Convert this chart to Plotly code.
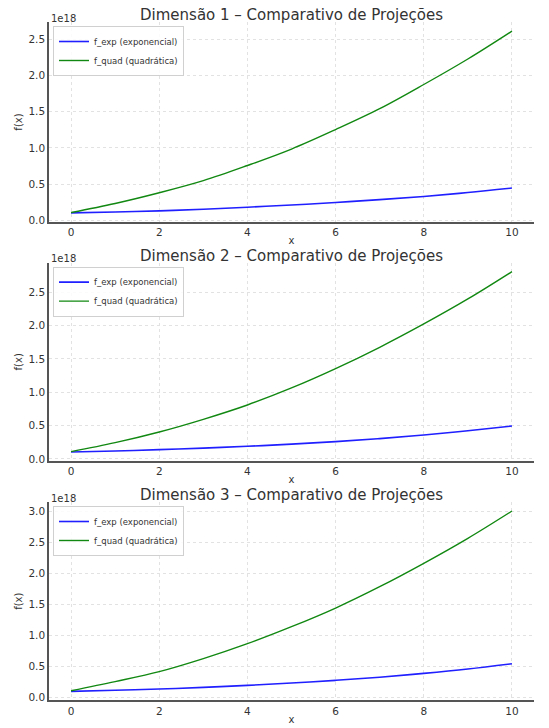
import plotly.graph_objects as go

# values, in units of 1e18
x_vals = [0, 1, 2, 3, 4, 5, 6, 7, 8, 9, 10]

dim1_exp = [0.102, 0.115, 0.130, 0.153, 0.181, 0.211, 0.246, 0.285, 0.329, 0.383, 0.445]
dim1_quad = [0.107, 0.232, 0.380, 0.547, 0.756, 0.983, 1.252, 1.540, 1.874, 2.226, 2.611]

dim2_exp = [0.105, 0.120, 0.140, 0.163, 0.190, 0.223, 0.260, 0.305, 0.360, 0.424, 0.495]
dim2_quad = [0.110, 0.245, 0.405, 0.595, 0.810, 1.065, 1.355, 1.675, 2.025, 2.400, 2.810]

dim3_exp = [0.102, 0.120, 0.140, 0.167, 0.199, 0.236, 0.280, 0.330, 0.392, 0.463, 0.548]
dim3_quad = [0.113, 0.260, 0.420, 0.630, 0.871, 1.145, 1.446, 1.790, 2.167, 2.570, 3.010]

titles = [
    "Dimensão 1 – Comparativo de Projeções",
    "Dimensão 2 – Comparativo de Projeções",
    "Dimensão 3 – Comparativo de Projeções",
]
exp_name = "f_exp (exponencial)"
quad_name = "f_quad (quadrática)"
offset_label = "1e18"

# body margin is removed in the page, so the figure fills the window
W, H = 549, 728
FONT = "DejaVu Sans"
TEXT = "#333333"
SPINE = "#555555"
GRID = "#e2e2e2"


def px_x(p):
    return p / W


def px_y(p):
    return 1 - p / H


x_dom = [px_x(49), px_x(534)]
# (top px, bottom px) of each axes box in the reference
boxes = [(22, 222), (262.6, 461), (502, 700.4)]

panels = [(dim1_exp, dim1_quad), (dim2_exp, dim2_quad), (dim3_exp, dim3_quad)]

fig = go.Figure()
annotations = []
layout = {}

for i, (f_exp, f_quad) in enumerate(panels):
    n = i + 1
    sfx = "" if n == 1 else str(n)
    legend_id = "legend" if n == 1 else f"legend{n}"
    top, bot = boxes[i]

    fig.add_trace(go.Scatter(
        x=x_vals, y=f_exp, name=exp_name, mode="lines",
        line=dict(color="#1f1fff", width=1.6, shape="spline"),
        xaxis=f"x{sfx}", yaxis=f"y{sfx}", legend=legend_id,
    ))
    fig.add_trace(go.Scatter(
        x=x_vals, y=f_quad, name=quad_name, mode="lines",
        line=dict(color="#118811", width=1.4, shape="spline"),
        xaxis=f"x{sfx}", yaxis=f"y{sfx}", legend=legend_id,
    ))

    lo = min(f_exp + f_quad)
    hi = max(f_exp + f_quad)
    pad = (hi - lo) * 0.05

    layout[f"xaxis{sfx}"] = dict(
        domain=x_dom, anchor=f"y{sfx}", range=[-0.5, 10.5], automargin=False,
        tickmode="linear", tick0=0, dtick=2, ticks="",
        showline=True, linecolor=SPINE, linewidth=1.5,
        showgrid=True, gridcolor=GRID, griddash="dot", zeroline=False,
        tickfont=dict(family=FONT, size=10.5, color=TEXT),
        title=dict(text="x", font=dict(family=FONT, size=10, color=TEXT), standoff=0),
    )
    layout[f"yaxis{sfx}"] = dict(
        domain=[px_y(bot), px_y(top)], anchor=f"x{sfx}", range=[lo - pad, hi + pad],
        automargin=False,
        tickmode="linear", tick0=0, dtick=0.5, tickformat=".1f", ticks="",
        showline=True, linecolor=SPINE, linewidth=1.5,
        showgrid=True, gridcolor=GRID, griddash="dot", zeroline=False,
        tickfont=dict(family=FONT, size=10.5, color=TEXT),
        title=dict(text="f(x)", font=dict(family=FONT, size=10, color=TEXT), standoff=4),
    )
    layout[legend_id] = dict(
        x=px_x(53), y=px_y(top + 4), xanchor="left", yanchor="top",
        bgcolor="rgba(255,255,255,0.85)", bordercolor="#d0d0d0", borderwidth=1,
        font=dict(family=FONT, size=8.5, color=TEXT), itemwidth=30,
        tracegroupgap=0,
    )

    annotations.append(dict(
        text=titles[i], xref="paper", yref="paper",
        x=(x_dom[0] + x_dom[1]) / 2, y=px_y(top - 7),
        xanchor="center", yanchor="middle", showarrow=False,
        font=dict(family=FONT, size=15, color=TEXT),
    ))
    annotations.append(dict(
        text=offset_label, xref="paper", yref="paper",
        x=x_dom[0], y=px_y(top - 4),
        xanchor="left", yanchor="middle", showarrow=False,
        font=dict(family=FONT, size=10, color=TEXT),
    ))

fig.update_layout(
    width=W, height=H,
    margin=dict(l=0, r=0, t=0, b=0),
    paper_bgcolor="white", plot_bgcolor="white",
    font=dict(family=FONT, color=TEXT),
    annotations=annotations,
    **layout,
)

fig.write_html(
    "out.html",
    config={"displayModeBar": False},
    post_script="document.body.style.margin = '0'; document.body.style.overflow = 'hidden';",
)
